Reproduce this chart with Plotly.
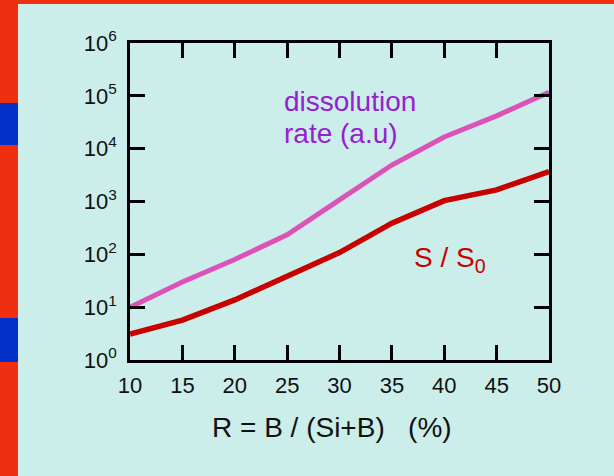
import plotly.graph_objects as go

# Boron fraction R = B / (Si+B), in percent
ratio_pct = [10, 15, 20, 25, 30, 35, 40, 45, 50]
# Dissolution rate (arbitrary units)
dissolution_rate = [10, 30, 80, 235, 1070, 4900, 16600, 41700, 117000]
# Normalised surface S / S0
surface_ratio = [3.1, 5.7, 13.7, 38, 108, 390, 1040, 1660, 3700]

x_ticks = [10, 15, 20, 25, 30, 35, 40, 45, 50]
y_tick_vals = [1, 10, 100, 1000, 10000, 100000, 1000000]
y_tick_text = ["10<sup>%d</sup>" % i for i in range(7)]

W, H = 614, 476
L, R_, T, B = 130, 65, 43, 116
FONT = "Liberation Sans, Arial, sans-serif"


def px_x(px):
    return (px - L) / (W - L - R_)


def px_y(py):
    return (H - B - py) / (H - T - B)


fig = go.Figure()
fig.add_trace(go.Scatter(x=ratio_pct, y=dissolution_rate, mode="lines",
                         line=dict(color="#dc52b8", width=5), hoverinfo="skip"))
fig.add_trace(go.Scatter(x=ratio_pct, y=surface_ratio, mode="lines",
                         line=dict(color="#c80000", width=5.5), hoverinfo="skip"))

shapes = [
    # decorative side and top band
    dict(type="rect", xref="paper", yref="paper", layer="below",
         x0=px_x(0), x1=px_x(W), y0=px_y(0), y1=px_y(H),
         fillcolor="#ee3010", line=dict(width=0)),
    dict(type="rect", xref="paper", yref="paper", layer="below",
         x0=px_x(18), x1=px_x(W), y0=px_y(4), y1=px_y(H),
         fillcolor="#cbeeea", line=dict(width=0)),
    dict(type="rect", xref="paper", yref="paper", layer="below",
         x0=px_x(0), x1=px_x(18), y0=px_y(103), y1=px_y(145),
         fillcolor="#0330c8", line=dict(width=0)),
    dict(type="rect", xref="paper", yref="paper", layer="below",
         x0=px_x(0), x1=px_x(18), y0=px_y(318), y1=px_y(362),
         fillcolor="#0330c8", line=dict(width=0)),
]

annotations = [
    dict(text="dissolution", x=px_x(282), y=px_y(102), xref="paper", yref="paper",
         xanchor="left", yanchor="middle", showarrow=False,
         font=dict(family=FONT, size=28, color="#9820d0")),
    dict(text="rate (a.u)", x=px_x(282), y=px_y(133), xref="paper", yref="paper",
         xanchor="left", yanchor="middle", showarrow=False,
         font=dict(family=FONT, size=28, color="#9820d0")),
    dict(text="S / S<sub>0</sub>", x=px_x(412), y=px_y(259), xref="paper", yref="paper",
         xanchor="left", yanchor="middle", showarrow=False,
         font=dict(family=FONT, size=28, color="#c80000")),
    dict(text="R = B / (Si+B)   (%)", x=px_x(332), y=px_y(427), xref="paper", yref="paper",
         xanchor="center", yanchor="middle", showarrow=False,
         font=dict(family=FONT, size=28, color="#111111")),
]

fig.update_layout(
    width=W, height=H,
    margin=dict(l=L, r=R_, t=T, b=B, pad=0),
    paper_bgcolor="#cbeeea", plot_bgcolor="#cbeeea",
    showlegend=False,
    shapes=shapes,
    annotations=annotations,
    font=dict(family=FONT, size=22, color="#111111"),
)
fig.update_xaxes(range=[10, 50], tickvals=x_ticks, ticks="inside", ticklen=15,
                 tickwidth=2.5, tickcolor="black", showline=True, linecolor="black",
                 linewidth=2.5, mirror="ticks", showgrid=False, zeroline=False,
                 ticklabelstandoff=4,
                 tickfont=dict(family=FONT, size=22, color="#111111"))
fig.update_yaxes(type="log", range=[0, 6], tickvals=y_tick_vals, ticktext=y_tick_text,
                 ticks="inside", ticklen=15, tickwidth=2.5, tickcolor="black",
                 showline=True, linecolor="black", linewidth=2.5, mirror="ticks",
                 showgrid=False, zeroline=False, ticklabelstandoff=6,
                 tickfont=dict(family=FONT, size=22, color="#111111"))

fig.write_html("out.html", config={"displayModeBar": False})
